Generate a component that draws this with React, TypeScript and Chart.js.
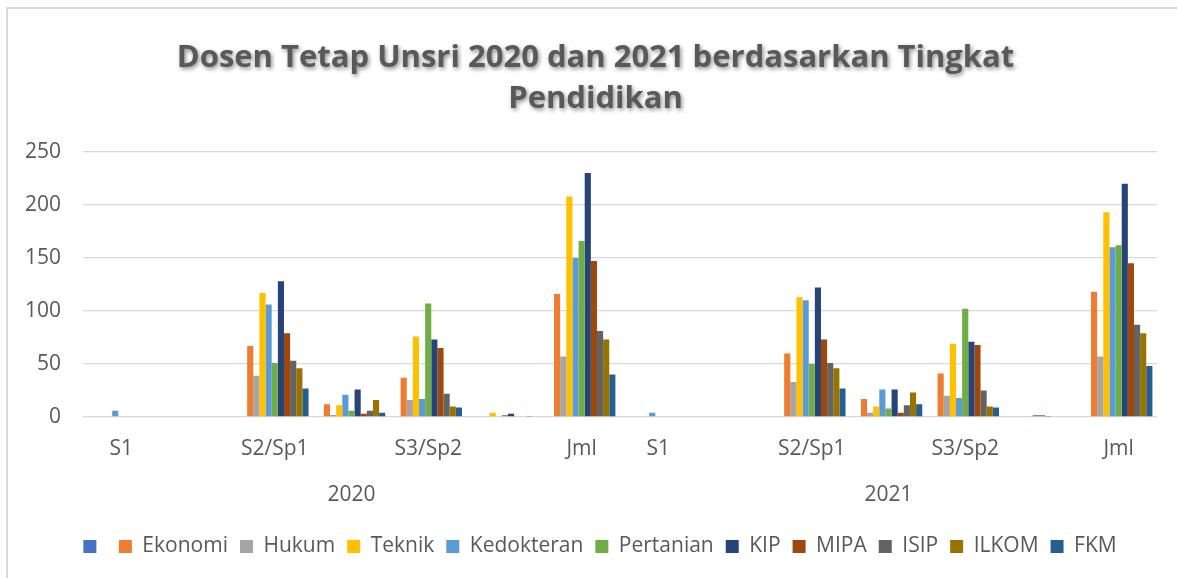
import React, { useEffect, useRef } from "react";
import { Chart, registerables } from "chart.js";

Chart.register(...registerables);

// Category levels (every other category label is hidden, as in the source chart)
const levels = ["S1", "", "S2/Sp1", "", "S3/Sp2", "", "Jml"];
const years = ["2020", "2021"];
const yearLabelIndex = 3;

// Series values: 2020 (7 categories) then 2021 (7 categories)
const blankSeries = [null, null, null, null, null, null, null, null, null, null, null, null, null, null];
const ekonomi = [0, 0, 67, 12, 37, 0, 116, 0, 0, 60, 17, 41, 0, 118];
const hukum = [0, 0, 39, 2, 16, 0, 57, 0, 0, 33, 4, 20, 0, 57];
const teknik = [0, 0, 117, 11, 76, 4, 208, 0, 0, 113, 10, 69, 1, 193];
const kedokteran = [6, 0, 106, 21, 17, 0, 150, 4, 0, 110, 26, 18, 2, 160];
const pertanian = [0, 0, 51, 6, 107, 2, 166, 0, 0, 50, 8, 102, 2, 162];
const kip = [0, 0, 128, 26, 73, 3, 230, 0, 0, 122, 26, 71, 1, 220];
const mipa = [0, 0, 79, 3, 65, 0, 147, 0, 0, 73, 4, 68, 0, 145];
const isip = [0, 0, 53, 6, 22, 0, 81, 0, 0, 51, 11, 25, 0, 87];
const ilkom = [0, 0, 46, 16, 10, 1, 73, 0, 0, 46, 23, 10, 0, 79];
const fkm = [0, 0, 27, 4, 9, 0, 40, 0, 0, 27, 12, 9, 0, 48];

const seriesNames = ["", "Ekonomi", "Hukum", "Teknik", "Kedokteran", "Pertanian", "KIP", "MIPA", "ISIP", "ILKOM", "FKM"];
const seriesValues = [blankSeries, ekonomi, hukum, teknik, kedokteran, pertanian, kip, mipa, isip, ilkom, fkm];
const seriesColors = ["#4472C4", "#ED7D31", "#A5A5A5", "#FFC000", "#5B9BD5", "#70AD47", "#264478", "#9E480E", "#636363", "#997300", "#255E91"];

const yTicks = [0, 50, 100, 150, 200, 250];

const FONT = "'Open Sans', 'Noto Sans', sans-serif";
const TEXT = "#595959";

const titleShadow = {
  id: "titleShadow",
  beforeDraw(chart: any) {
    const tb = chart.titleBlock;
    if (tb && !tb.__wrapped) {
      const orig = tb.draw.bind(tb);
      tb.draw = (...a: any[]) => {
        const ctx = chart.ctx;
        ctx.save();
        ctx.shadowColor = "rgba(0,0,0,0.45)";
        ctx.shadowBlur = 4;
        ctx.shadowOffsetX = 1.5;
        ctx.shadowOffsetY = 1.5;
        orig(...a);
        ctx.restore();
      };
      tb.__wrapped = true;
    }
  },
};

// centre legend and title under the whole frame rather than the padded area
const boxShift = {
  id: "boxShift",
  afterLayout(chart: any) {
    const lg = chart.legend;
    if (lg) {
      lg.left += 21.5;
      lg.right += 21.5;
    }
    const tb = chart.titleBlock;
    if (tb) {
      tb.left += 17;
      tb.right += 17;
    }
  },
};

export default function App() {
  const ref = useRef<HTMLCanvasElement>(null);

  useEffect(() => {
    const labels: (string | string[])[] = [];
    years.forEach((yr) => {
      levels.forEach((lv, i) => {
        labels.push(i === yearLabelIndex ? [lv, yr] : lv);
      });
    });

    const chart = new Chart(ref.current!, {
      type: "bar",
      data: {
        labels,
        datasets: seriesNames.map((name, i) => ({
          label: name,
          data: seriesValues[i] as any,
          backgroundColor: seriesColors[i],
          borderWidth: 0,
          categoryPercentage: 0.88,
          barPercentage: 1,
        })),
      },
      options: {
        animation: false,
        responsive: false,
        layout: { padding: { left: 0, right: 20, top: 0, bottom: 11 } },
        plugins: {
          title: {
            display: true,
            text: ["Dosen Tetap Unsri 2020 dan 2021 berdasarkan Tingkat", "Pendidikan"],
            color: "#595959",
            font: { family: FONT, size: 31, weight: "bold", lineHeight: 1.32 },
            padding: { top: 38, bottom: 32 },
          },
          legend: {
            position: "bottom",
            labels: {
              color: TEXT,
              font: { family: FONT, size: 21 },
              boxWidth: 13,
              boxHeight: 13,
              padding: 12,
            },
          },
          tooltip: { enabled: false },
        },
        scales: {
          x: {
            grid: { display: false, drawTicks: false },
            border: { display: false },
            afterFit: (s: any) => {
              s.height = s.height - 3;
            },
            ticks: {
              color: TEXT,
              font: { family: FONT, size: 21, lineHeight: 2.19 },
              autoSkip: false,
              maxRotation: 0,
              padding: 9,
            },
          },
          y: {
            min: 0,
            max: 250,
            afterFit: (s: any) => {
              s.width = 83;
            },
            afterBuildTicks: (s: any) => {
              s.ticks = yTicks.map((v) => ({ value: v }));
            },
            grid: { color: "#d9d9d9", lineWidth: 1.3, drawTicks: false },
            border: { display: false },
            ticks: {
              color: TEXT,
              font: { family: FONT, size: 21 },
              padding: 22,
            },
          },
        },
      },
      plugins: [titleShadow, boxShift],
    });
    return () => chart.destroy();
  }, []);

  return (
    <div style={{ position: "fixed", left: 0, top: 0, width: 1177, height: 578, overflow: "hidden", background: "#fff" }}>
      <div
        style={{
          position: "absolute",
          left: 6,
          top: 7,
          width: 1400,
          height: 800,
          borderTop: "2px solid #d9d9d9",
          borderLeft: "2px solid #d9d9d9",
        }}
      />
      <canvas ref={ref} width={1177} height={578} style={{ position: "absolute", left: 0, top: 0 }} />
    </div>
  );
}
